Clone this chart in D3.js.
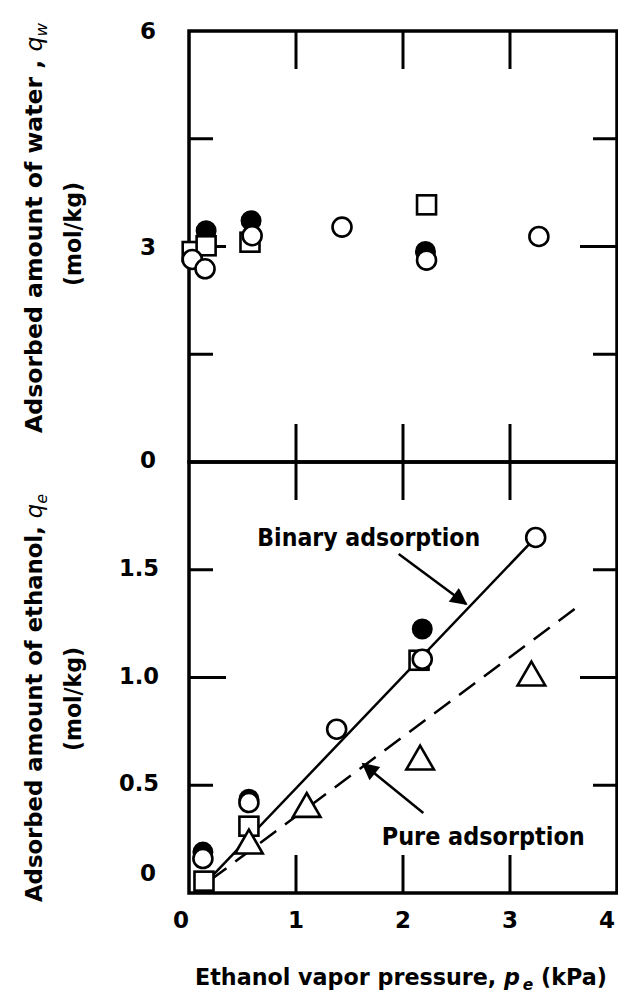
<!DOCTYPE html>
<html><head><meta charset="utf-8">
<script src="https://cdn.jsdelivr.net/npm/d3@7"></script>
<style>
html,body{margin:0;padding:0;background:#fff;}
svg{display:block;}
text{font-family:"DejaVu Sans",sans-serif;font-weight:bold;fill:#000;}
</style></head>
<body>
<script>
// ---- data ----
const xTicks = [0, 1, 2, 3, 4];
const waterTicks = [0, 3, 6];
const waterMinor = [1.5, 3, 4.5];
const ethTicks = [0.5, 1.0, 1.5];
const ethTickLabels = ["0.5", "1.0", "1.5"];

// top panel: water
const wOpenX = [0.03, 0.15, 0.59, 1.43, 2.22, 3.27];
const wOpenY = [2.82, 2.69, 3.15, 3.27, 2.81, 3.14];
const wFillX = [0.16, 0.58, 2.21];
const wFillY = [3.22, 3.36, 2.93];
const wSqX = [0.03, 0.16, 0.57, 2.22];
const wSqY = [2.93, 3.01, 3.06, 3.58];

// bottom panel: ethanol
const eOpenX = [0.13, 0.56, 1.38, 2.18, 3.24];
const eOpenY = [0.16, 0.42, 0.76, 1.085, 1.65];
const eFillX = [0.13, 0.56, 2.18];
const eFillY = [0.19, 0.435, 1.225];
const eSqX = [0.14, 0.56, 2.15];
const eSqY = [0.055, 0.31, 1.08];
const eTriX = [0.56, 1.10, 2.16, 3.20];
const eTriY = [0.22, 0.39, 0.61, 1.00];

// fitted lines
const binaryLineX = [0.2, 3.24];
const binaryLineY = [0.07, 1.65];
const pureLineX = [0.2, 3.675];
const pureLineY = [0.06, 1.344];

// annotations (data units): [tailX, tailY, tipX, tipY]
const binaryArrow = [1.96, 1.573, 2.59, 1.341];
const pureArrow = [2.19, 0.371, 1.626, 0.599];
const binaryLabel = ["Binary adsorption", 1.68, 1.648];
const pureLabel = ["Pure adsorption", 2.75, 0.262];

// ---- layout ----
const W = 618, H = 995;
const svg = d3.select("body").append("svg").attr("width", W).attr("height", H);
const defs = svg.append("defs");
defs.append("marker").attr("id", "ah").attr("viewBox", "0 0 10 10")
  .attr("refX", 9).attr("refY", 5).attr("markerWidth", 26).attr("markerHeight", 17)
  .attr("markerUnits", "userSpaceOnUse").attr("orient", "auto")
  .append("path").attr("d", "M0,0 L10,5 L0,10 Z").attr("fill", "#000");

const x = d3.scaleLinear().domain([0, 4]).range([189, 617]);
const yW = d3.scaleLinear().domain([0, 6]).range([462, 31]);
const yE = d3.scaleLinear().domain([0, 2]).range([893, 462]);

const FW = 3.5, TW = 3;

function panel(y, yMinor, bigTick) {
  const g = svg.append("g");
  const [x0, x1] = x.range();
  const [yb, yt] = y.range();
  g.append("rect").attr("x", x0).attr("y", yt).attr("width", x1 - x0).attr("height", yb - yt)
    .attr("fill", "none").attr("stroke", "#000").attr("stroke-width", FW);
  [1, 2, 3].forEach(v => {
    g.append("line").attr("x1", x(v)).attr("x2", x(v)).attr("y1", yt).attr("y2", yt + 38)
      .attr("stroke", "#000").attr("stroke-width", TW);
    g.append("line").attr("x1", x(v)).attr("x2", x(v)).attr("y1", yb).attr("y2", yb - 38)
      .attr("stroke", "#000").attr("stroke-width", TW);
  });
  yMinor.forEach(v => {
    const len = v === bigTick ? 37 : 24;
    g.append("line").attr("x1", x0).attr("x2", x0 + len).attr("y1", y(v)).attr("y2", y(v))
      .attr("stroke", "#000").attr("stroke-width", TW);
    g.append("line").attr("x1", x1).attr("x2", x1 - len).attr("y1", y(v)).attr("y2", y(v))
      .attr("stroke", "#000").attr("stroke-width", TW);
  });
  return g;
}
panel(yW, waterMinor, 3);
panel(yE, ethTicks, 1.0);

// tick labels
const tl = svg.append("g").attr("font-size", 23);
waterTicks.forEach(v => {
  tl.append("text").attr("x", 148).attr("y", yW(v) + (v === 0 ? -2 : 0))
    .attr("text-anchor", "middle").attr("dominant-baseline", "central").text(v);
});
ethTicks.forEach((v, i) => {
  tl.append("text").attr("x", 159).attr("y", yE(v) - 2)
    .attr("text-anchor", "end").attr("dominant-baseline", "central")
    .attr("textLength", 40).attr("lengthAdjust", "spacingAndGlyphs").text(ethTickLabels[i]);
});
tl.append("text").attr("x", 148).attr("y", yE(0) - 20)
  .attr("text-anchor", "middle").attr("dominant-baseline", "central").text("0");
xTicks.forEach(v => {
  tl.append("text").attr("x", x(v) - (v === 0 ? 8 : v === 4 ? 10 : 0)).attr("y", 920)
    .attr("text-anchor", "middle").attr("dominant-baseline", "central").text(v);
});

// axis titles
function vtitle(cx, cy, len, parts, size) {
  const t = svg.append("text").attr("transform", `translate(${cx},${cy}) rotate(-90)`)
    .attr("text-anchor", "middle").attr("font-size", size)
    .attr("textLength", len).attr("lengthAdjust", "spacingAndGlyphs");
  parts.forEach(p => {
    const s = t.append("tspan").text(p[0]);
    if (p[1]) s.attr("font-style", "italic").attr("font-weight", "normal");
    if (p[2]) s.attr("font-size", size * 0.7).attr("dy", p[2]);
  });
}
vtitle(42, 228, 410, [["Adsorbed amount of water , "], ["q", true], ["w", true, 5]], 23);
vtitle(81, 234, 104, [["(mol/kg)"]], 23);
vtitle(42, 698, 408, [["Adsorbed amount of ethanol, "], ["q", true], ["e", true, 5]], 23);
vtitle(81, 699, 104, [["(mol/kg)"]], 23);

// x title: separate pieces laid out side by side, font scaled to reference width
const xParts = [
  {t: "Ethanol vapor pressure,", size: 23, italic: false, dy: 0, gap: 0},
  {t: "p", size: 23, italic: true, dy: 0, gap: 8},
  {t: "e", size: 16, italic: true, dy: 5, gap: 3},
  {t: "(kPa)", size: 23, italic: false, dy: 0, gap: 8}
];
const xtG = svg.append("g");
const xEls = xParts.map(p => {
  const el = xtG.append("text").attr("font-size", p.size).attr("y", 985 + p.dy)
    .attr("font-style", p.italic ? "italic" : "normal").text(p.t);
  return {el, w: el.node().getComputedTextLength(), gap: p.gap, size: p.size};
});
const natural = d3.sum(xEls, d => d.w + d.gap);
const k = 412 / natural;
let cx = 401 - 206;
xEls.forEach(d => {
  cx += d.gap * k;
  d.el.attr("x", cx).attr("font-size", d.size * k);
  cx += d.el.node().getComputedTextLength();
});

// lines
const line = (xs, ys, y) => d3.line()(xs.map((v, i) => [x(v), y(ys[i])]));
svg.append("path").attr("d", line(binaryLineX, binaryLineY, yE))
  .attr("stroke", "#000").attr("stroke-width", 2.5).attr("fill", "none");
svg.append("path").attr("d", line(pureLineX, pureLineY, yE))
  .attr("stroke", "#000").attr("stroke-width", 2.5).attr("fill", "none")
  .attr("stroke-dasharray", "20,11");

// markers
const R = 9.5, SQ = 19;
function filled(xs, ys, y) {
  xs.forEach((v, i) => svg.append("circle").attr("cx", x(v)).attr("cy", y(ys[i])).attr("r", R)
    .attr("fill", "#000").attr("stroke", "#000").attr("stroke-width", 2));
}
function squares(xs, ys, y) {
  xs.forEach((v, i) => svg.append("rect").attr("x", x(v) - SQ / 2).attr("y", y(ys[i]) - SQ / 2)
    .attr("width", SQ).attr("height", SQ).attr("fill", "#fff").attr("stroke", "#000").attr("stroke-width", 2.6));
}
function opens(xs, ys, y) {
  xs.forEach((v, i) => svg.append("circle").attr("cx", x(v)).attr("cy", y(ys[i])).attr("r", R)
    .attr("fill", "#fff").attr("stroke", "#000").attr("stroke-width", 2.6));
}
function tris(xs, ys, y) {
  const sym = d3.symbol().type(d3.symbolTriangle).size(330);
  xs.forEach((v, i) => svg.append("path").attr("d", sym())
    .attr("transform", `translate(${x(v)},${y(ys[i])})`)
    .attr("fill", "#fff").attr("stroke", "#000").attr("stroke-width", 2.6));
}
filled(wFillX, wFillY, yW);
squares(wSqX, wSqY, yW);
opens(wOpenX, wOpenY, yW);

filled(eFillX, eFillY, yE);
squares(eSqX, eSqY, yE);
tris(eTriX, eTriY, yE);
opens(eOpenX, eOpenY, yE);

// annotations
[binaryArrow, pureArrow].forEach(a => {
  svg.append("line").attr("x1", x(a[0])).attr("y1", yE(a[1])).attr("x2", x(a[2])).attr("y2", yE(a[3]))
    .attr("stroke", "#000").attr("stroke-width", 2.5).attr("marker-end", "url(#ah)");
});
svg.append("text").attr("x", x(binaryLabel[1])).attr("y", yE(binaryLabel[2]))
  .attr("text-anchor", "middle").attr("dominant-baseline", "central").attr("font-size", 24)
  .attr("textLength", 223).attr("lengthAdjust", "spacingAndGlyphs").text(binaryLabel[0]);
svg.append("text").attr("x", x(pureLabel[1])).attr("y", yE(pureLabel[2]))
  .attr("text-anchor", "middle").attr("dominant-baseline", "central").attr("font-size", 24)
  .attr("textLength", 203).attr("lengthAdjust", "spacingAndGlyphs").text(pureLabel[0]);
</script>
</body></html>
